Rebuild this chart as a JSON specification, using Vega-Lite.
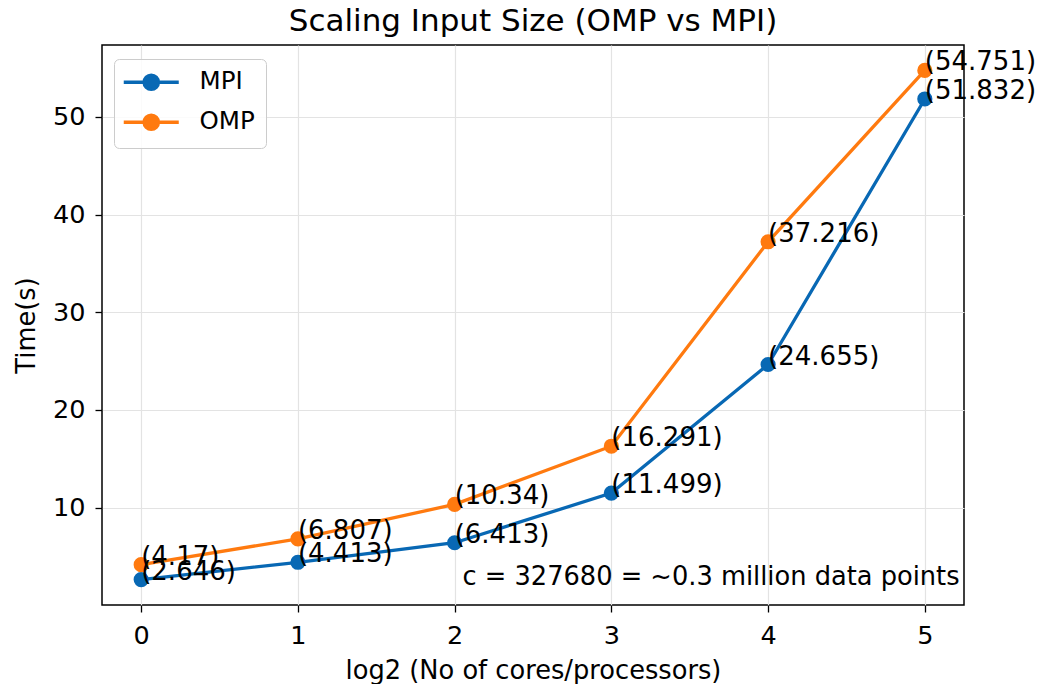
{
  "$schema": "https://vega.github.io/schema/vega-lite/v6.json",
  "width": 862,
  "height": 560,
  "autosize": {"type": "none"},
  "padding": {"left": 102, "top": 45, "right": 83, "bottom": 79},
  "background": "white",
  "config": {
    "font": "DejaVu Sans",
    "view": {"stroke": "black", "strokeWidth": 1.5},
    "axis": {
      "domain": false,
      "grid": true,
      "gridColor": "#e3e3e3",
      "gridWidth": 1.2,
      "tickColor": "black",
      "tickSize": 7,
      "tickWidth": 1.3,
      "labelFont": "DejaVu Sans",
      "labelFontSize": 25.5,
      "labelColor": "black",
      "titleFont": "DejaVu Sans",
      "titleFontSize": 25.7,
      "titleFontWeight": "normal",
      "titleColor": "black"
    }
  },
  "title": {
    "text": "Scaling Input Size (OMP vs MPI)",
    "font": "DejaVu Sans",
    "fontSize": 31,
    "fontWeight": "normal",
    "color": "black",
    "anchor": "middle",
    "offset": 7
  },
  "datasets": {
    "series": [
      {"cores": 0, "time": 2.646, "method": "MPI", "label": "(2.646)"},
      {"cores": 1, "time": 4.413, "method": "MPI", "label": "(4.413)"},
      {"cores": 2, "time": 6.413, "method": "MPI", "label": "(6.413)"},
      {"cores": 3, "time": 11.499, "method": "MPI", "label": "(11.499)"},
      {"cores": 4, "time": 24.655, "method": "MPI", "label": "(24.655)"},
      {"cores": 5, "time": 51.832, "method": "MPI", "label": "(51.832)"},
      {"cores": 0, "time": 4.17, "method": "OMP", "label": "(4.17)"},
      {"cores": 1, "time": 6.807, "method": "OMP", "label": "(6.807)"},
      {"cores": 2, "time": 10.34, "method": "OMP", "label": "(10.34)"},
      {"cores": 3, "time": 16.291, "method": "OMP", "label": "(16.291)"},
      {"cores": 4, "time": 37.216, "method": "OMP", "label": "(37.216)"},
      {"cores": 5, "time": 54.751, "method": "OMP", "label": "(54.751)"}
    ],
    "note": [
      {"cores": 2.05, "time": 2.1, "label": "c = 327680 = ~0.3 million data points"}
    ]
  },
  "layer": [
    {
      "data": {"name": "series"},
      "mark": {"type": "line", "strokeWidth": 3.3},
      "encoding": {
        "x": {"field": "cores", "type": "quantitative",
              "scale": {"domain": [-0.25, 5.25], "nice": false, "zero": false},
              "axis": {"values": [0, 1, 2, 3, 4, 5], "title": "log2 (No of cores/processors)", "labelPadding": 11, "titlePadding": 10, "format": "d"}},
        "y": {"field": "time", "type": "quantitative",
              "scale": {"domain": [0.041, 57.356], "nice": false, "zero": false},
              "axis": {"values": [10, 20, 30, 40, 50], "title": "Time(s)", "labelPadding": 10, "titlePadding": 13}},
        "color": {"field": "method", "type": "nominal",
                  "scale": {"domain": ["MPI", "OMP"], "range": ["#0868b4", "#ff7a0f"]},
                  "legend": {
                    "title": null,
                    "orient": "none",
                    "legendX": 12,
                    "legendY": 14,
                    "padding": 11,
                    "fillColor": "rgba(255,255,255,0.85)",
                    "strokeColor": "#cccccc",
                    "cornerRadius": 5,
                    "symbolType": "M-2.75,0H2.75M0.72,0A0.72,0.72,0,1,1,-0.72,0A0.72,0.72,0,1,1,0.72,0Z",
                    "symbolSize": 400,
                    "symbolStrokeWidth": 3.3,
                    "symbolOffset": 14,
                    "labelOffset": 36,
                    "rowPadding": 11,
                    "labelFont": "DejaVu Sans",
                    "labelFontSize": 24.5,
                    "labelColor": "black",
                    "symbolOpacity": 1,
                    "encode": {
                      "symbols": {"update": {
                        "fill": {"scale": "color", "field": "value"},
                        "stroke": {"scale": "color", "field": "value"},
                        "fillOpacity": {"value": 1},
                        "strokeOpacity": {"value": 1}
                      }}
                    }
                  }}
      }
    },
    {
      "data": {"name": "series"},
      "mark": {"type": "point", "filled": true, "size": 230, "opacity": 1},
      "encoding": {
        "x": {"field": "cores", "type": "quantitative"},
        "y": {"field": "time", "type": "quantitative"},
        "color": {"field": "method", "type": "nominal"}
      }
    },
    {
      "data": {"name": "series"},
      "mark": {"type": "text", "align": "left", "baseline": "alphabetic", "fontSize": 26, "color": "black", "font": "DejaVu Sans"},
      "encoding": {
        "x": {"field": "cores", "type": "quantitative"},
        "y": {"field": "time", "type": "quantitative"},
        "text": {"field": "label"}
      }
    },
    {
      "data": {"name": "note"},
      "mark": {"type": "text", "align": "left", "baseline": "alphabetic", "fontSize": 25.7, "color": "black", "font": "DejaVu Sans"},
      "encoding": {
        "x": {"field": "cores", "type": "quantitative"},
        "y": {"field": "time", "type": "quantitative"},
        "text": {"field": "label"}
      }
    }
  ]
}
